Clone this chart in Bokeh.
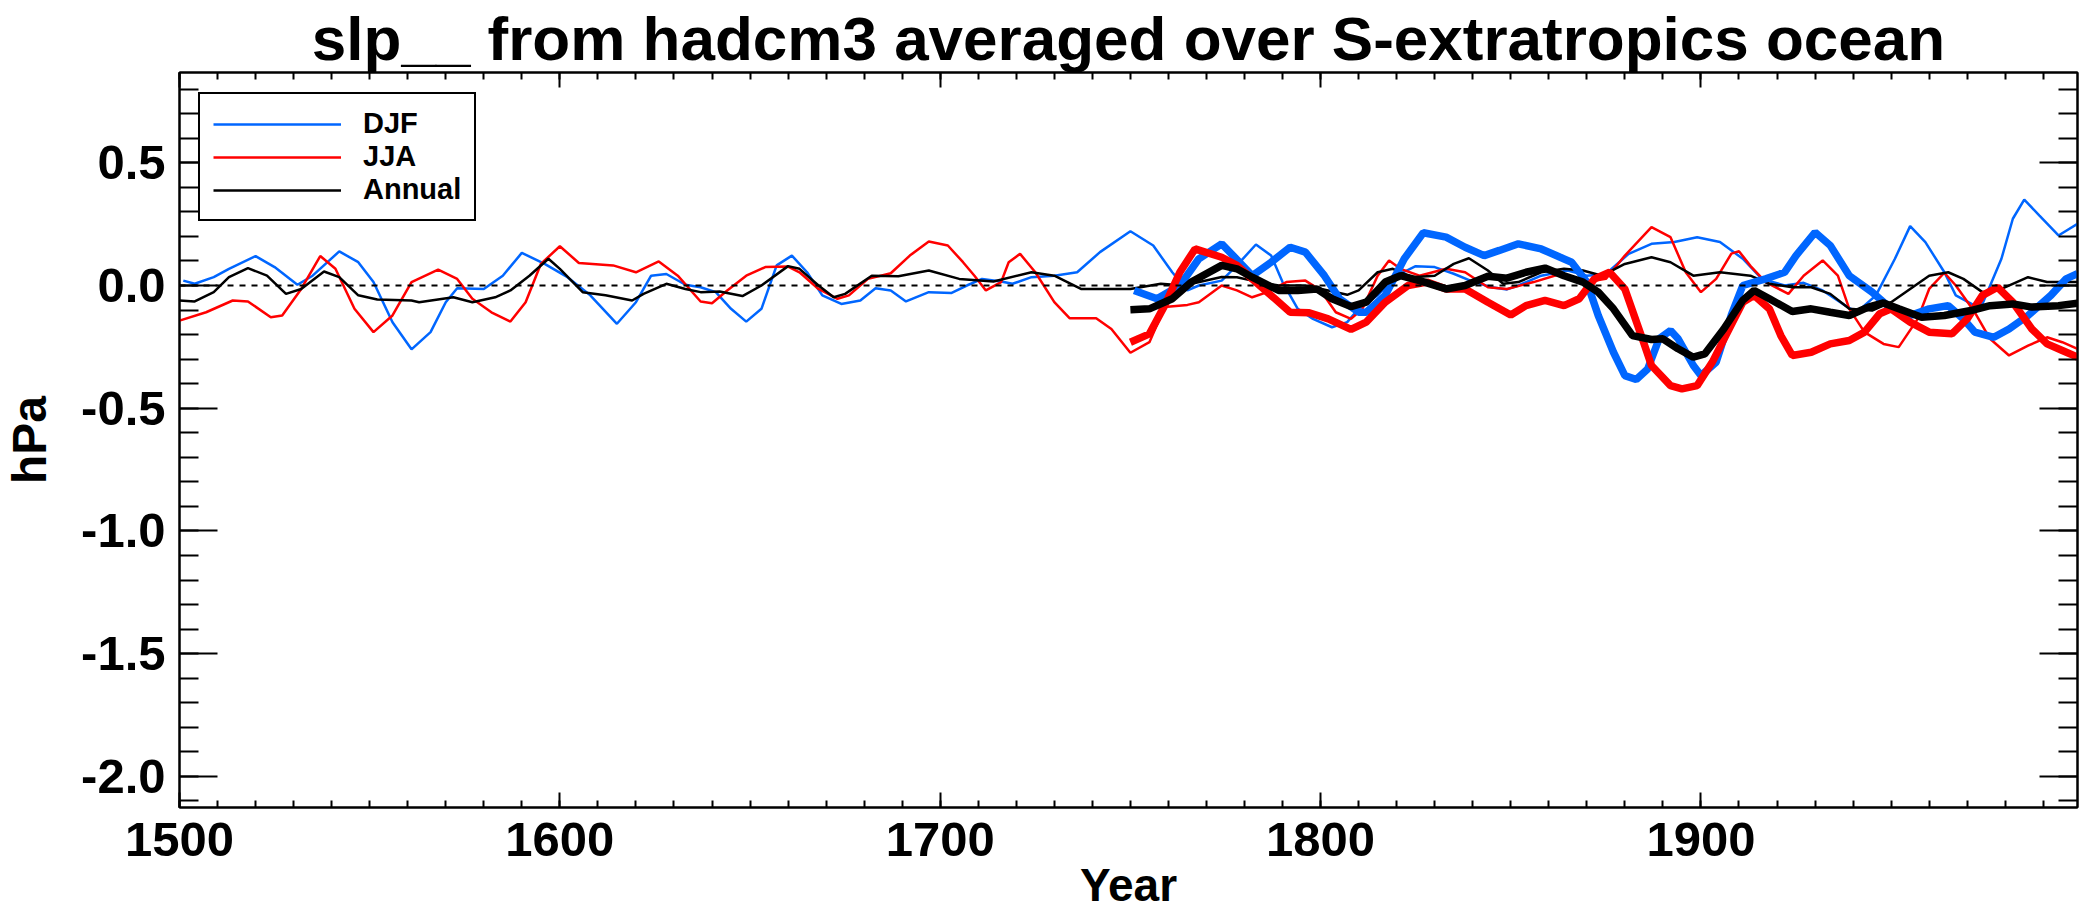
from bokeh.plotting import figure
from bokeh.models import (Range1d, SingleIntervalTicker, LinearAxis, Span,
                          Legend, LegendItem, PrintfTickFormatter, CustomJSTickFormatter)
from bokeh.embed import file_html
from bokeh.resources import INLINE

# ---------------- data ----------------
djf_years = [1501, 1504, 1509, 1513, 1520, 1525, 1531, 1535, 1542, 1547, 1551, 1556, 1561, 1566,
             1570, 1573, 1580, 1585, 1590, 1596, 1602, 1608, 1615, 1620, 1624, 1628, 1633, 1637,
             1641, 1645, 1649, 1653, 1657, 1661, 1665, 1669, 1674, 1679, 1683, 1687, 1691, 1697,
             1703, 1707, 1711, 1716, 1719, 1724, 1730, 1736, 1742, 1750, 1756, 1761, 1765, 1768,
             1774, 1778, 1783, 1787, 1790, 1794, 1798, 1803, 1807, 1810, 1815, 1820, 1825, 1830,
             1835, 1840, 1845, 1849, 1852, 1858, 1865, 1870, 1875, 1881, 1887, 1893, 1899, 1905,
             1911, 1916, 1922, 1927, 1932, 1938, 1941, 1946, 1951, 1955, 1959, 1964, 1967, 1972,
             1974, 1979, 1982, 1985, 1989, 1994, 1999]
djf_vals = [0.02, 0.007, 0.034, 0.068, 0.12, 0.075, 0.003, 0.04, 0.139, 0.095, 0.014, -0.15, -0.26, -0.19,
            -0.068, -0.011, -0.014, 0.04, 0.133, 0.088, 0.034, -0.04, -0.156, -0.068, 0.04, 0.047, 0.003, -0.007,
            -0.027, -0.095, -0.147, -0.095, 0.082, 0.122, 0.054, -0.04, -0.075, -0.061, -0.011, -0.02, -0.065, -0.027,
            -0.03, 0.0, 0.027, 0.016, 0.007, 0.034, 0.04, 0.054, 0.136, 0.221, 0.163, 0.054, -0.02, 0.0,
            0.02, 0.082, 0.167, 0.122, 0.014, -0.095, -0.136, -0.17, -0.149, -0.095, -0.04, 0.04, 0.079, 0.075,
            0.048, 0.016, -0.007, -0.016, 0.0, 0.04, 0.061, 0.04, 0.047, 0.129, 0.17, 0.177, 0.197, 0.177,
            0.109, 0.027, 0.0, 0.011, -0.02, -0.082, -0.109, -0.04, 0.109, 0.242, 0.177, 0.054, -0.04, -0.082,
            -0.075, 0.109, 0.272, 0.35, 0.285, 0.204, 0.251]

jja_years = [1500, 1507, 1514, 1518, 1524, 1527, 1532, 1537, 1541, 1546, 1551, 1556, 1561, 1568,
             1573, 1577, 1582, 1587, 1591, 1595, 1600, 1605, 1614, 1620, 1626, 1631, 1637, 1640,
             1644, 1649, 1654, 1660, 1663, 1668, 1673, 1676, 1681, 1687, 1692, 1697, 1702, 1706,
             1709, 1712, 1716, 1718, 1721, 1725, 1730, 1734, 1741, 1745, 1750, 1755, 1759, 1765,
             1768, 1774, 1778, 1782, 1786, 1791, 1796, 1800, 1804, 1808, 1811, 1815, 1818, 1821,
             1826, 1833, 1838, 1844, 1849, 1856, 1863, 1870, 1875, 1880, 1887, 1892, 1896, 1900,
             1904, 1908, 1910, 1913, 1917, 1923, 1927, 1932, 1936, 1939, 1943, 1948, 1952, 1957,
             1960, 1964, 1967, 1972, 1976, 1981, 1986, 1991, 1995, 1999]
jja_vals = [-0.143, -0.109, -0.061, -0.065, -0.129, -0.122, -0.014, 0.12, 0.068, -0.095, -0.19, -0.122, 0.014, 0.065,
            0.027, -0.054, -0.109, -0.147, -0.068, 0.088, 0.16, 0.092, 0.082, 0.054, 0.098, 0.04, -0.065, -0.072,
            -0.02, 0.04, 0.075, 0.077, 0.054, -0.014, -0.054, -0.04, 0.027, 0.05, 0.122, 0.179, 0.163, 0.095,
            0.04, -0.02, 0.014, 0.095, 0.129, 0.054, -0.068, -0.133, -0.133, -0.177, -0.274, -0.231, -0.088, -0.079,
            -0.068, 0.0, -0.02, -0.048, -0.027, 0.014, 0.02, -0.02, -0.109, -0.136, -0.095, 0.04, 0.102, 0.068,
            0.04, 0.068, 0.054, -0.007, -0.014, 0.014, 0.047, 0.014, 0.027, 0.122, 0.238, 0.197, 0.054, -0.027,
            0.027, 0.13, 0.14, 0.08, 0.014, -0.034, 0.04, 0.102, 0.04, -0.095, -0.19, -0.238, -0.251, -0.136,
            -0.014, 0.052, 0.0, -0.109, -0.217, -0.285, -0.245, -0.211, -0.231, -0.258]

ann_years = [1500, 1504, 1509, 1513, 1518, 1523, 1528, 1532, 1538, 1542, 1547, 1552, 1561, 1563,
             1572, 1577, 1583, 1587, 1592, 1597, 1600, 1606, 1612, 1619, 1622, 1628, 1633, 1637,
             1642, 1648, 1653, 1660, 1663, 1668, 1672, 1675, 1682, 1689, 1697, 1705, 1714, 1724,
             1730, 1737, 1750, 1758, 1764, 1774, 1778, 1782, 1789, 1796, 1802, 1807, 1810, 1815,
             1819, 1824, 1830, 1835, 1839, 1844, 1848, 1852, 1858, 1864, 1869, 1874, 1880, 1887,
             1892, 1898, 1905, 1913, 1918, 1924, 1929, 1934, 1939, 1945, 1950, 1955, 1960, 1965,
             1969, 1974, 1979, 1986, 1991, 1999]
ann_vals = [-0.061, -0.065, -0.027, 0.034, 0.071, 0.04, -0.034, -0.014, 0.057, 0.034, -0.04, -0.057, -0.061, -0.068,
            -0.048, -0.068, -0.048, -0.02, 0.04, 0.109, 0.068, -0.027, -0.04, -0.061, -0.034, 0.007, -0.014, -0.027,
            -0.024, -0.043, 0.0, 0.079, 0.068, 0.0, -0.048, -0.034, 0.04, 0.038, 0.061, 0.027, 0.016, 0.054,
            0.04, -0.014, -0.014, 0.007, 0.0, 0.035, 0.034, 0.02, 0.0, 0.0, -0.02, -0.038, -0.02, 0.054,
            0.068, 0.034, 0.04, 0.088, 0.111, 0.061, 0.007, 0.014, 0.054, 0.068, 0.061, 0.04, 0.088, 0.115,
            0.095, 0.04, 0.054, 0.04, 0.007, -0.007, -0.007, -0.034, -0.095, -0.102, -0.068, -0.014, 0.04, 0.054,
            0.027, -0.027, -0.014, 0.034, 0.014, 0.014]

djf_obs_years = [1751, 1757, 1763, 1768, 1774, 1777, 1782, 1787, 1792, 1796, 1801, 1805, 1810, 1812,
                 1817, 1822, 1827, 1833, 1838, 1843, 1847, 1852, 1858, 1863, 1866, 1870, 1873, 1877,
                 1880, 1883, 1886, 1889, 1892, 1894, 1898, 1900, 1904, 1908, 1911, 1917, 1922, 1925,
                 1930, 1934, 1939, 1945, 1950, 1955, 1960, 1965, 1969, 1972, 1977, 1981, 1986, 1992,
                 1996, 1999]
djf_obs_vals = [-0.02, -0.054, 0.0, 0.109, 0.17, 0.122, 0.04, 0.095, 0.156, 0.136, 0.04, -0.054, -0.109, -0.109,
                -0.04, 0.109, 0.215, 0.197, 0.156, 0.122, 0.143, 0.17, 0.149, 0.115, 0.095, 0.014, -0.122, -0.272,
                -0.367, -0.383, -0.34, -0.217, -0.183, -0.217, -0.326, -0.367, -0.312, -0.12, 0.0, 0.027, 0.054, 0.122,
                0.217, 0.163, 0.04, -0.027, -0.095, -0.122, -0.095, -0.082, -0.136, -0.19, -0.211, -0.177, -0.122, -0.04,
                0.027, 0.048]

jja_obs_years = [1750, 1755, 1759, 1763, 1767, 1774, 1778, 1782, 1788, 1792, 1797, 1802, 1808, 1812,
                 1817, 1823, 1828, 1833, 1838, 1844, 1850, 1854, 1859, 1864, 1868, 1872, 1876, 1880,
                 1884, 1887, 1892, 1895, 1899, 1903, 1907, 1911, 1914, 1918, 1921, 1924, 1929, 1934,
                 1939, 1943, 1947, 1950, 1955, 1960, 1966, 1970, 1974, 1978, 1982, 1987, 1991, 1995,
                 1999]
jja_obs_vals = [-0.231, -0.197, -0.082, 0.054, 0.149, 0.115, 0.082, 0.027, -0.054, -0.109, -0.111, -0.136, -0.179, -0.149,
                -0.068, 0.0, 0.014, -0.014, -0.014, -0.068, -0.12, -0.082, -0.061, -0.082, -0.054, 0.027, 0.054, -0.014,
                -0.19, -0.326, -0.408, -0.421, -0.408, -0.312, -0.19, -0.068, -0.04, -0.095, -0.204, -0.285, -0.272, -0.238,
                -0.224, -0.19, -0.115, -0.095, -0.149, -0.19, -0.197, -0.136, -0.04, -0.007, -0.068, -0.177, -0.238, -0.265,
                -0.292]

ann_obs_years = [1750, 1755, 1761, 1766, 1774, 1778, 1782, 1789, 1794, 1799, 1803, 1808, 1812, 1817,
                 1821, 1826, 1833, 1838, 1844, 1849, 1854, 1859, 1864, 1869, 1873, 1877, 1882, 1887,
                 1890, 1894, 1898, 1901, 1906, 1911, 1914, 1918, 1924, 1929, 1934, 1939, 1944, 1948,
                 1952, 1958, 1964, 1971, 1976, 1982, 1987, 1994, 1999]
ann_obs_vals = [-0.099, -0.095, -0.054, 0.014, 0.082, 0.068, 0.034, -0.02, -0.02, -0.014, -0.054, -0.086, -0.068, 0.014,
                0.04, 0.02, -0.014, 0.0, 0.038, 0.03, 0.054, 0.071, 0.04, 0.014, -0.027, -0.095, -0.204, -0.22,
                -0.217, -0.258, -0.292, -0.279, -0.177, -0.06, -0.02, -0.054, -0.106, -0.095, -0.109, -0.122, -0.088, -0.071,
                -0.095, -0.129, -0.122, -0.102, -0.082, -0.075, -0.088, -0.082, -0.072]

title_text = "slp__ from hadcm3 averaged over S-extratropics ocean"
x_label = "Year"
y_label = "hPa"
legend_labels = ["DJF", "JJA", "Annual"]

BLUE = "#0066ff"
RED = "#ff0000"
BLACK = "#000000"
FONT = "Liberation Sans"

x0, x1 = 1500, 1999
y0, y1 = -2.127, 0.868

p = figure(width=2079, height=924, x_range=Range1d(x0, x1), y_range=Range1d(y0, y1),
           output_backend="svg", toolbar_location=None,
           min_border_left=175, min_border_right=2, min_border_top=72, min_border_bottom=117)
p.xgrid.visible = False
p.ygrid.visible = False
p.outline_line_color = BLACK
p.outline_line_width = 2
p.background_fill_color = "white"
p.border_fill_color = "white"

p.title.text = title_text
p.title.align = "center"
p.title.text_font = FONT
p.title.text_font_style = "bold"
p.title.text_font_size = "62px"
p.title.text_color = BLACK
p.title.text_line_height = 0.8
p.title.standoff = 0
p.title.offset = 0


def style_axis(ax, is_x, labels=True):
    ax.axis_line_width = 2
    ax.axis_line_color = BLACK
    ax.major_tick_line_width = 2
    ax.minor_tick_line_width = 2
    ax.major_tick_line_color = BLACK
    ax.minor_tick_line_color = BLACK
    ax.major_tick_out = 0
    ax.minor_tick_out = 0
    if is_x:
        ax.ticker = SingleIntervalTicker(interval=100, num_minor_ticks=10)
        ax.major_tick_in = 15
        ax.minor_tick_in = 7
    else:
        ax.ticker = SingleIntervalTicker(interval=0.5, num_minor_ticks=5)
        ax.major_tick_in = 38
        ax.minor_tick_in = 19
    if labels:
        ax.major_label_text_font = FONT
        ax.major_label_text_font_style = "bold"
        ax.major_label_text_font_size = "49px"
        ax.major_label_text_color = BLACK
        ax.axis_label_text_font = FONT
        ax.axis_label_text_font_style = "bold"
        ax.axis_label_text_color = BLACK
        if is_x:
            ax.formatter = PrintfTickFormatter(format="%d")
            ax.major_label_standoff = 15
            ax.axis_label = x_label
            ax.axis_label_text_font_size = "46px"
            ax.axis_label_text_line_height = 0.8
            ax.axis_label_standoff = 0
        else:
            ax.formatter = PrintfTickFormatter(format="%.1f")
            ax.major_label_standoff = 14
            ax.axis_label = y_label
            ax.axis_label_text_font_size = "48px"
            ax.axis_label_standoff = 22
    else:
        ax.formatter = CustomJSTickFormatter(code="return ''")
        ax.major_label_text_font_size = "1px"
        ax.major_label_standoff = 0


style_axis(p.xaxis[0], True)
style_axis(p.yaxis[0], False)
top_ax = LinearAxis()
right_ax = LinearAxis()
style_axis(top_ax, True, labels=False)
style_axis(right_ax, False, labels=False)
p.add_layout(top_ax, "above")
p.add_layout(right_ax, "right")

p.add_layout(Span(location=0, dimension="width", line_color=BLACK, line_width=2, line_dash="6 6"))

thin_w = 2.5
thick_w = 7.5
r_djf = p.line(djf_years, djf_vals, line_color=BLUE, line_width=thin_w)
r_jja = p.line(jja_years, jja_vals, line_color=RED, line_width=thin_w)
r_ann = p.line(ann_years, ann_vals, line_color=BLACK, line_width=thin_w)
p.line(djf_obs_years, djf_obs_vals, line_color=BLUE, line_width=thick_w)
p.line(jja_obs_years, jja_obs_vals, line_color=RED, line_width=thick_w)
p.line(ann_obs_years, ann_obs_vals, line_color=BLACK, line_width=thick_w)

legend = Legend(items=[LegendItem(label=legend_labels[0], renderers=[r_djf]),
                       LegendItem(label=legend_labels[1], renderers=[r_jja]),
                       LegendItem(label=legend_labels[2], renderers=[r_ann])],
                location=(19, 586), orientation="vertical",
                label_text_font=FONT, label_text_font_style="bold", label_text_font_size="29px",
                label_text_color=BLACK, label_height=30, glyph_height=30, glyph_width=128,
                label_standoff=22, spacing=0, padding=13, margin=0,
                border_line_color=BLACK, border_line_width=2, border_line_alpha=1.0,
                background_fill_color="white", background_fill_alpha=1.0)
p.add_layout(legend, "center")

open("out.html", "w").write(file_html(p, INLINE))
